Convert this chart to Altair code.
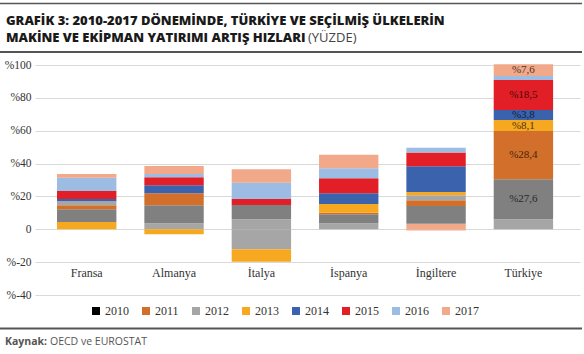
import altair as alt
import pandas as pd

# ---------------- data ----------------
ulkeler = ["Fransa", "Almanya", "İtalya", "İspanya", "İngiltere", "Türkiye"]
yillar = ["2010", "2011", "2012", "2013", "2014", "2015", "2016", "2017"]

# segments of each bar, from the zero line outward (positive up, negative down)
fransa_seri = ["2013", "2010", "2011", "2012", "2014", "2015", "2016", "2017"]
fransa_deger = [4.4, 7.8, 2.4, 2.4, 1.4, 4.9, 8.1, 2.3]

almanya_seri = ["2012", "2010", "2011", "2014", "2015", "2016", "2017", "2013"]
almanya_deger = [3.6, 11.0, 7.3, 4.9, 4.9, 2.0, 4.8, -3.0]

italya_seri = ["2012", "2010", "2015", "2016", "2017", "2012", "2013"]
italya_deger = [6.1, 8.7, 3.6, 10.0, 8.2, -12.2, -7.5]

ispanya_seri = ["2012", "2010", "2011", "2013", "2014", "2015", "2016", "2017"]
ispanya_deger = [3.6, 5.5, 1.0, 5.3, 6.5, 9.1, 6.1, 8.2]

ingiltere_seri = ["2017", "2010", "2011", "2012", "2013", "2014", "2015", "2016", "2017"]
ingiltere_deger = [3.4, 10.8, 3.4, 3.1, 2.0, 15.6, 8.4, 3.0, -0.8]

turkiye_seri = ["2012", "2010", "2011", "2013", "2014", "2015", "2016", "2017"]
turkiye_deger = [6.1, 24.3, 29.4, 6.7, 6.1, 18.3, 2.4, 7.1]
turkiye_etiket = ["", "%27,6", "%28,4", "%8,1", "%3,8", "%18,5", "", "%7,6"]

bar_renkleri = ["#808080", "#D2702B", "#A6A6A6", "#F6A821", "#3B62AD", "#E21F26", "#9DBCE3", "#F1A98A"]
lejant_renkleri = ["#000000", "#D2702B", "#A6A6A6", "#F6A821", "#3B62AD", "#E21F26", "#9DBCE3", "#F1A98A"]

baslik1 = "GRAFİK 3: 2010-2017 DÖNEMİNDE, TÜRKİYE VE SEÇİLMİŞ ÜLKELERİN"
baslik2 = "MAKİNE VE EKİPMAN YATIRIMI ARTIŞ HIZLARI"
baslik3 = "(YÜZDE)"
kaynak1 = "Kaynak:"
kaynak2 = "OECD ve EUROSTAT"

# ---------------- stacking table ----------------
gruplar = [
    ("Fransa", fransa_seri, fransa_deger, [""] * len(fransa_deger)),
    ("Almanya", almanya_seri, almanya_deger, [""] * len(almanya_deger)),
    ("İtalya", italya_seri, italya_deger, [""] * len(italya_deger)),
    ("İspanya", ispanya_seri, ispanya_deger, [""] * len(ispanya_deger)),
    ("İngiltere", ingiltere_seri, ingiltere_deger, [""] * len(ingiltere_deger)),
    ("Türkiye", turkiye_seri, turkiye_deger, turkiye_etiket),
]
rows = []
for ulke, seri, deger, etiket in gruplar:
    pos, neg = 0.0, 0.0
    for s, v, e in zip(seri, deger, etiket):
        if v >= 0:
            y0, y1 = pos, pos + v
            pos = y1
        else:
            y0, y1 = neg, neg + v
            neg = y1
        rows.append(dict(ulke=ulke, seri=s, deger=v, y0=y0, y1=y1, orta=(y0 + y1) / 2, etiket=e))
df = pd.DataFrame(rows)
etiket_df = df[df["etiket"] != ""]

SERIF = "Liberation Serif"
SANS = "Open Sans"

x_enc = alt.X(
    "ulke:N", sort=ulkeler, title=None,
    scale=alt.Scale(paddingInner=0.32, paddingOuter=0.28, align=0.45),
    axis=alt.Axis(domain=False, ticks=False, grid=False, labelAngle=0, labelFont=SERIF,
                  labelFontSize=12, labelColor="#333333", offset=-28, labelPadding=0),
)
y_scale = alt.Scale(domain=[-40, 100], nice=False)
y_axis = alt.Axis(values=list(range(-40, 101, 20)),
                  labelExpr="datum.value == 0 ? '0' : '%' + datum.value",
                  domain=False, ticks=False, grid=True, gridColor="#D9D9D9", gridWidth=1,
                  labelFont=SERIF, labelFontSize=11.5, labelColor="#333333", labelPadding=4)

bars = alt.Chart(df).mark_bar().encode(
    x=x_enc,
    y=alt.Y("y0:Q", scale=y_scale, axis=y_axis, title=None),
    y2="y1:Q",
    color=alt.Color("seri:N", scale=alt.Scale(domain=yillar, range=bar_renkleri), legend=None),
)

labels = alt.Chart(etiket_df).mark_text(font=SERIF, fontSize=11, color="#000000", opacity=0.7,
                                        baseline="middle").encode(
    x=x_enc,
    y=alt.Y("orta:Q", scale=y_scale, axis=y_axis, title=None),
    text="etiket:N",
)

lejant = alt.Chart(pd.DataFrame({"yil": yillar})).mark_rect().encode(
    x=alt.value(0), x2=alt.value(0), y=alt.value(0), y2=alt.value(0),
    color=alt.Color("yil:N", scale=alt.Scale(domain=yillar, range=lejant_renkleri),
                    legend=alt.Legend(orient="none", legendX=55, legendY=240, direction="horizontal",
                                      columns=8, title=None, symbolType="square", symbolSize=64,
                                      symbolStrokeWidth=0, labelFont=SERIF, labelFontSize=12,
                                      labelColor="#333333", columnPadding=11, labelOffset=3,
                                      padding=0)),
)

one = alt.Data(values=[{"a": 1}])


def metin(txt, x, y, size, weight, color, font=SANS):
    return alt.Chart(one).mark_text(align="left", baseline="alphabetic", font=font, fontSize=size,
                                    fontWeight=weight, color=color).encode(
        x=alt.value(x), y=alt.value(y), text=alt.value(txt))


def cizgi(y, w):
    return alt.Chart(one).mark_rule(color="#555555", strokeWidth=w).encode(
        x=alt.value(-35), x2=alt.value(547), y=alt.value(y))


chart = alt.layer(
    bars, labels, lejant,
    metin(baslik1, -29, -40, 13, 800, "#1a1a1a"),
    metin(baslik2, -29, -23.5, 13, 800, "#1a1a1a"),
    metin(baslik3, 273, -23.5, 13, 400, "#444444"),
    metin(kaynak1, -30, 280, 10.5, 700, "#555555"),
    metin(kaynak2, 15, 280, 10.5, 400, "#555555"),
    cizgi(-61.5, 1.5), cizgi(-13, 2), cizgi(263.5, 2),
).resolve_scale(color="independent").properties(
    width=545, height=230,
    padding={"left": 35, "top": 65, "right": 4, "bottom": 59},
    autosize=alt.AutoSizeParams(type="none"),
).configure_view(stroke=None)

chart.save("out.html", embed_options={"renderer": "svg", "actions": False})
